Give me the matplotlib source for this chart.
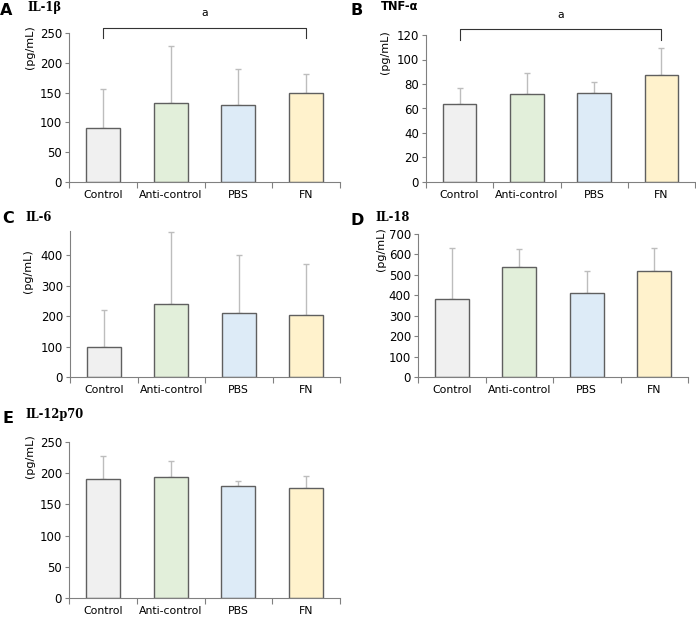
import matplotlib
matplotlib.use("Agg")
import matplotlib.pyplot as plt
import numpy as np

# groups and colours
groups = ["Control", "Anti-control", "PBS", "FN"]
bar_colors = ["#f0f0f0", "#e2efda", "#ddebf7", "#fff2cc"]

# means and upper error-bar tops
il1b_mean = [90, 133, 129, 150]
il1b_top = [156, 229, 190, 182]
tnfa_mean = [64, 71.5, 72.5, 87.5]
tnfa_top = [77, 89, 82, 109]
il6_mean = [97, 241, 212, 205]
il6_top = [219, 478, 401, 372]
il18_mean = [382, 540, 410, 517]
il18_top = [633, 628, 517, 633]
il12_mean = [190, 194, 179, 176]
il12_top = [227, 219, 188, 196]

W, H = 696, 618


def px_axes(fig, left, right, top, bottom):
    return fig.add_axes([left / W, 1 - bottom / H, (right - left) / W, (bottom - top) / H])


def px_text(fig, x, y, s, **kw):
    return fig.text(x / W, 1 - y / H, s, **kw)


def bar_panel(ax, means, tops, ymax, step):
    x = np.arange(len(groups))
    means = np.array(means)
    errs = np.array(tops) - means
    ax.errorbar(x, means, yerr=[np.zeros_like(errs), errs], fmt="none",
                ecolor="#bdbdbd", elinewidth=1, capsize=2, capthick=1, zorder=1)
    ax.bar(x, means, width=0.5, color=bar_colors, edgecolor="#5f5f5f", linewidth=1, zorder=2)
    ax.set_xlim(-0.5, len(groups) - 0.5)
    ax.set_ylim(0, ymax)
    ax.set_yticks(np.arange(0, ymax + 0.1, step))
    # tick marks between categories, labels in the middle
    ax.set_xticks(np.arange(-0.5, len(groups), 1.0))
    ax.set_xticklabels([])
    ax.set_xticks(x, minor=True)
    ax.set_xticklabels(groups, minor=True, fontsize=7.8)
    ax.tick_params(axis="x", which="minor", length=0, pad=6)
    ax.tick_params(axis="x", which="major", length=4, color="#808080", direction="out")
    ax.tick_params(axis="y", length=3, color="#808080", labelsize=8.5, pad=2)
    for s in ("top", "right"):
        ax.spines[s].set_visible(False)
    for s in ("left", "bottom"):
        ax.spines[s].set_color("#808080")


def labels(fig, letter, lx, ly, title, tx, ty, yx, yy, title_font="DejaVu Serif"):
    px_text(fig, lx, ly, letter, fontsize=11.5, fontweight="heavy", va="baseline")
    px_text(fig, tx, ty, title, fontsize=8.3, fontweight="bold", family=title_font, va="baseline")
    px_text(fig, yx, yy, "(pg/mL)", fontsize=8, rotation=90, ha="center", va="center")


def bracket(ax, y_line, y_end, y_text):
    n = len(groups) - 1
    ax.plot([0, 0, n, n], [y_end, y_line, y_line, y_end], color="#333333", lw=0.8, clip_on=False)
    ax.text(n / 2, y_text, "a", ha="center", va="center", fontsize=7.8, clip_on=False)


fig = plt.figure(figsize=(W / 100, H / 100), dpi=100)

ax_a = px_axes(fig, 69, 340, 33, 182)
bar_panel(ax_a, il1b_mean, il1b_top, 250, 50)
bracket(ax_a, 258, 241, 284)
labels(fig, "A", 0, 15, "IL-1β", 27, 11, 30, 47)

ax_b = px_axes(fig, 426, 695, 35, 182)
bar_panel(ax_b, tnfa_mean, tnfa_top, 120, 20)
bracket(ax_b, 124.6, 116, 136)
labels(fig, "B", 351, 15, "TNF-α", 381, 10, 385, 52, title_font="DejaVu Sans")

ax_c = px_axes(fig, 70, 340, 231, 377)
bar_panel(ax_c, il6_mean, il6_top, 480, 100)
ax_c.set_yticks(np.arange(0, 401, 100))
labels(fig, "C", 2, 223, "IL-6", 25, 221, 28, 271)

ax_d = px_axes(fig, 418, 688, 234, 377)
bar_panel(ax_d, il18_mean, il18_top, 700, 100)
labels(fig, "D", 351, 225, "IL-18", 375, 221, 381, 249)

ax_e = px_axes(fig, 69, 340, 442, 598)
bar_panel(ax_e, il12_mean, il12_top, 250, 50)
labels(fig, "E", 2, 423, "IL-12p70", 25, 418, 30, 456)

fig.savefig("out.png", dpi=100)
